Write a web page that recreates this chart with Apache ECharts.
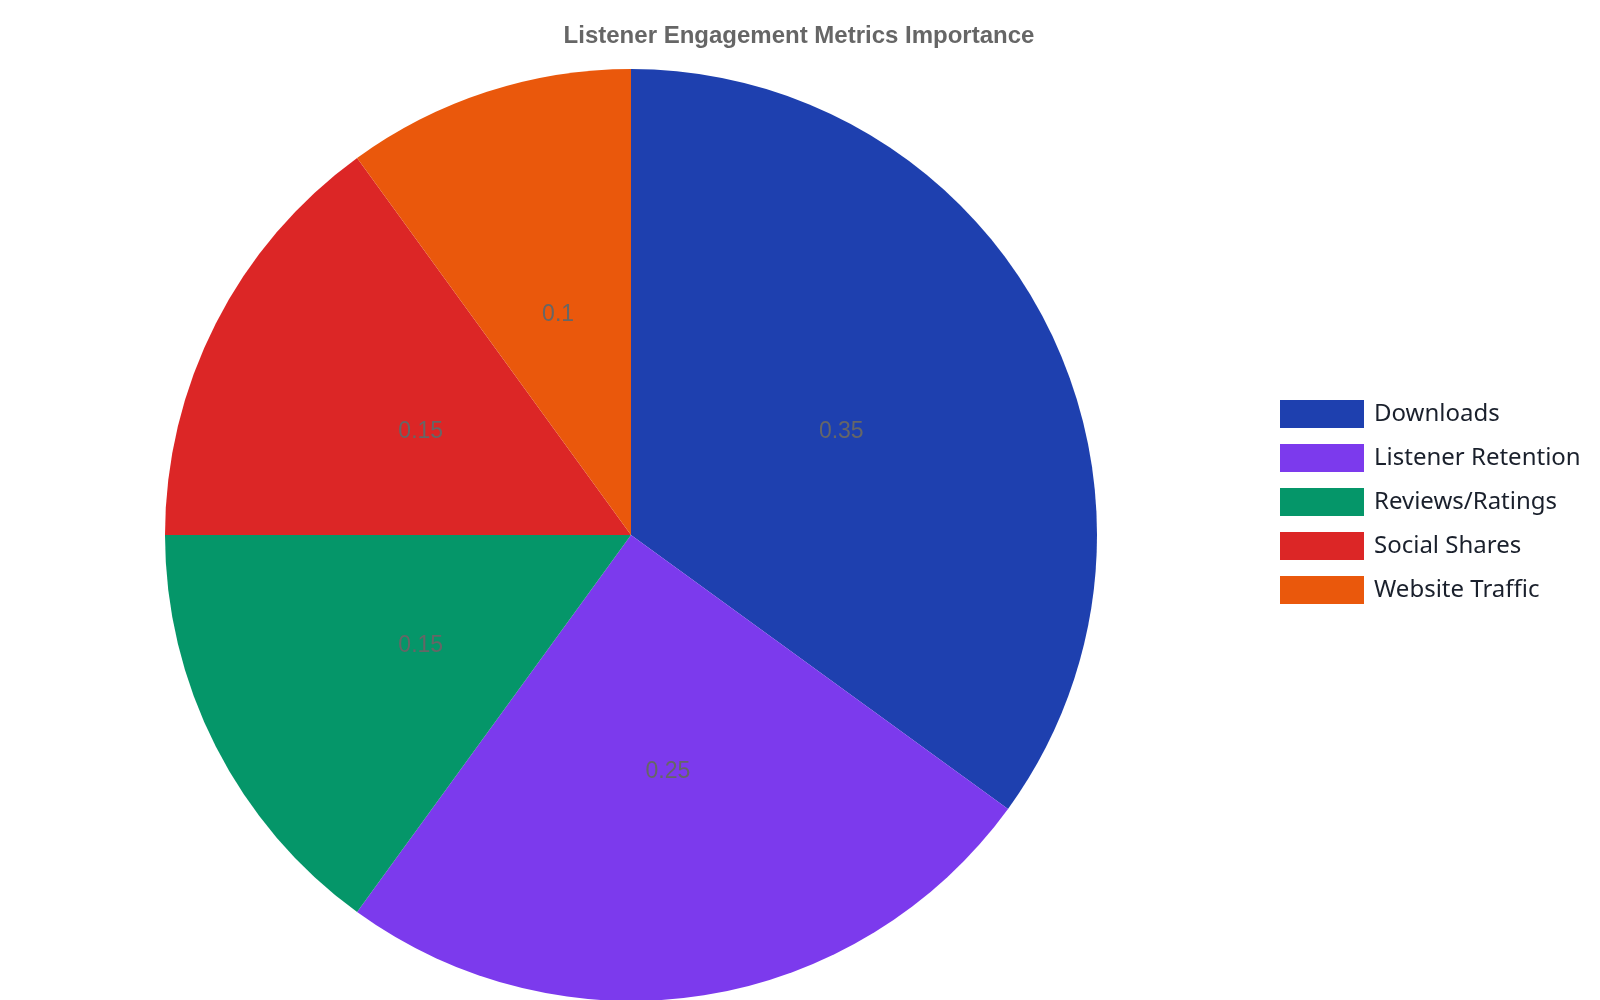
<!DOCTYPE html>
<html>
<head>
<meta charset="utf-8">
<script src="https://cdn.jsdelivr.net/npm/echarts@6/dist/echarts.min.js"></script>
<style>html,body{margin:0;padding:0;background:#fff;}#c{width:1600px;height:1000px;}</style>
</head>
<body>
<div id="c"></div>
<script>
const categories = ["Downloads", "Listener Retention", "Reviews/Ratings", "Social Shares", "Website Traffic"];
const values = [0.35, 0.25, 0.15, 0.15, 0.1];
const colors = ["#1e40af", "#7c3aed", "#059669", "#dc2626", "#ea580c"];

const chart = echarts.init(document.getElementById('c'));
chart.setOption({
  backgroundColor: '#ffffff',
  animation: false,
  title: {
    text: 'Listener Engagement Metrics Importance',
    left: 794, top: 19, textAlign: 'center',
    textStyle: { fontFamily: 'Liberation Sans', fontSize: 24, fontWeight: 'bold', color: '#666666' }
  },
  legend: {
    orient: 'vertical', left: 1275, top: 395,
    icon: 'rect', itemWidth: 84, itemHeight: 28, itemGap: 16,
    textStyle: { fontFamily: 'Noto Sans', fontSize: 24, color: '#1a202c', padding: [0,0,0,5] },
    data: categories
  },
  series: [{
    type: 'pie',
    center: [631, 535],
    radius: [0, 466],
    startAngle: 90,
    clockwise: true,
    label: {
      show: true, position: 'inside', formatter: '{v|{c}}',
      rich: {
        v: { fontFamily: 'Liberation Sans', fontSize: 23, color: '#666666', padding: [8, 0, 0, 0] }
      }
    },
    labelLine: { show: false },
    emphasis: { disabled: true },
    data: categories.map((n, i) => ({ name: n, value: values[i], itemStyle: { color: colors[i] } }))
  }]
});
</script>
</body>
</html>
